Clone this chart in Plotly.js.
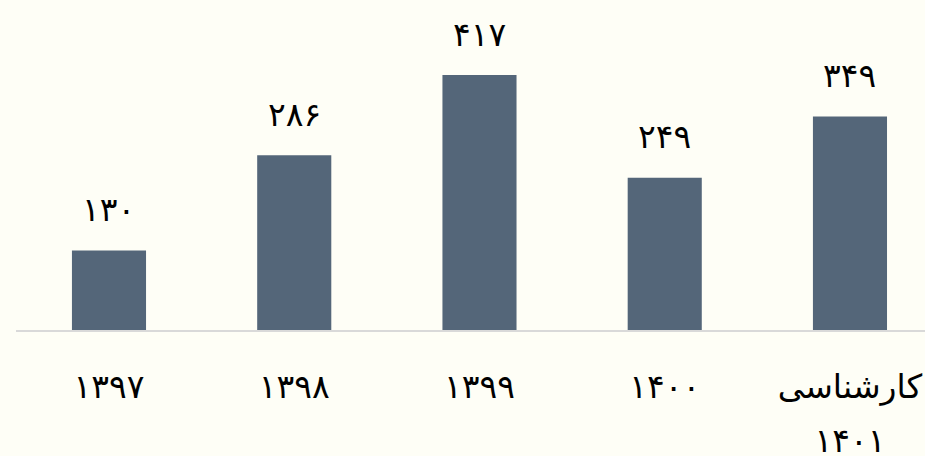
<!DOCTYPE html>
<html>
<head>
<meta charset="utf-8">
<script src="https://cdn.plot.ly/plotly-3.0.1.min.js"></script>
<style>html,body{margin:0;padding:0;background:#FEFEF6;}</style>
</head>
<body>
<div id="chart" style="width:925px;height:456px;"></div>
<script>
const categories = ["۱۳۹۷", "۱۳۹۸", "۱۳۹۹", "۱۴۰۰", "کارشناسی<br>۱۴۰۱"];
const values = [130, 286, 417, 249, 349];
const valueLabels = ["۱۳۰", "۲۸۶", "۴۱۷", "۲۴۹", "۳۴۹"];

const xs = categories.map((c, i) => i);
const fontFam = "DejaVu Sans, sans-serif";

const trace = {
  type: "bar",
  x: xs,
  y: values,
  width: 0.4,
  marker: {color: "#546679"},
  hoverinfo: "none"
};

const annotations = values.map((v, i) => ({
  x: xs[i], y: v, xref: "x", yref: "y",
  text: valueLabels[i], showarrow: false,
  yanchor: "middle", yshift: 41,
  font: {family: fontFam, size: 33, color: "#000"}
}));

const layout = {
  width: 925, height: 456,
  margin: {l: 16, r: 0, t: 0, b: 126},
  paper_bgcolor: "#FEFEF6",
  plot_bgcolor: "#FEFEF6",
  showlegend: false,
  xaxis: {
    range: [-0.502, 4.405],
    tickmode: "array",
    tickvals: xs,
    ticktext: categories,
    showgrid: false, zeroline: false,
    showline: true, linecolor: "#D9D9D9", linewidth: 1.5,
    ticks: "", ticklabelstandoff: 27,
    tickfont: {family: fontFam, size: 33, color: "#000"}
  },
  yaxis: {
    range: [0, 539.7],
    visible: false, showgrid: false, zeroline: false
  },
  annotations: annotations
};

Plotly.newPlot("chart", [trace], layout, {displayModeBar: false, staticPlot: true}).then(() => {
  document.querySelectorAll(".xtick text tspan.line").forEach((t, i, all) => {
    const dy = t.getAttribute("dy");
    if (dy && dy !== "0em" && parseFloat(dy) > 0) t.setAttribute("dy", "1.62em");
  });
});
</script>
</body>
</html>
